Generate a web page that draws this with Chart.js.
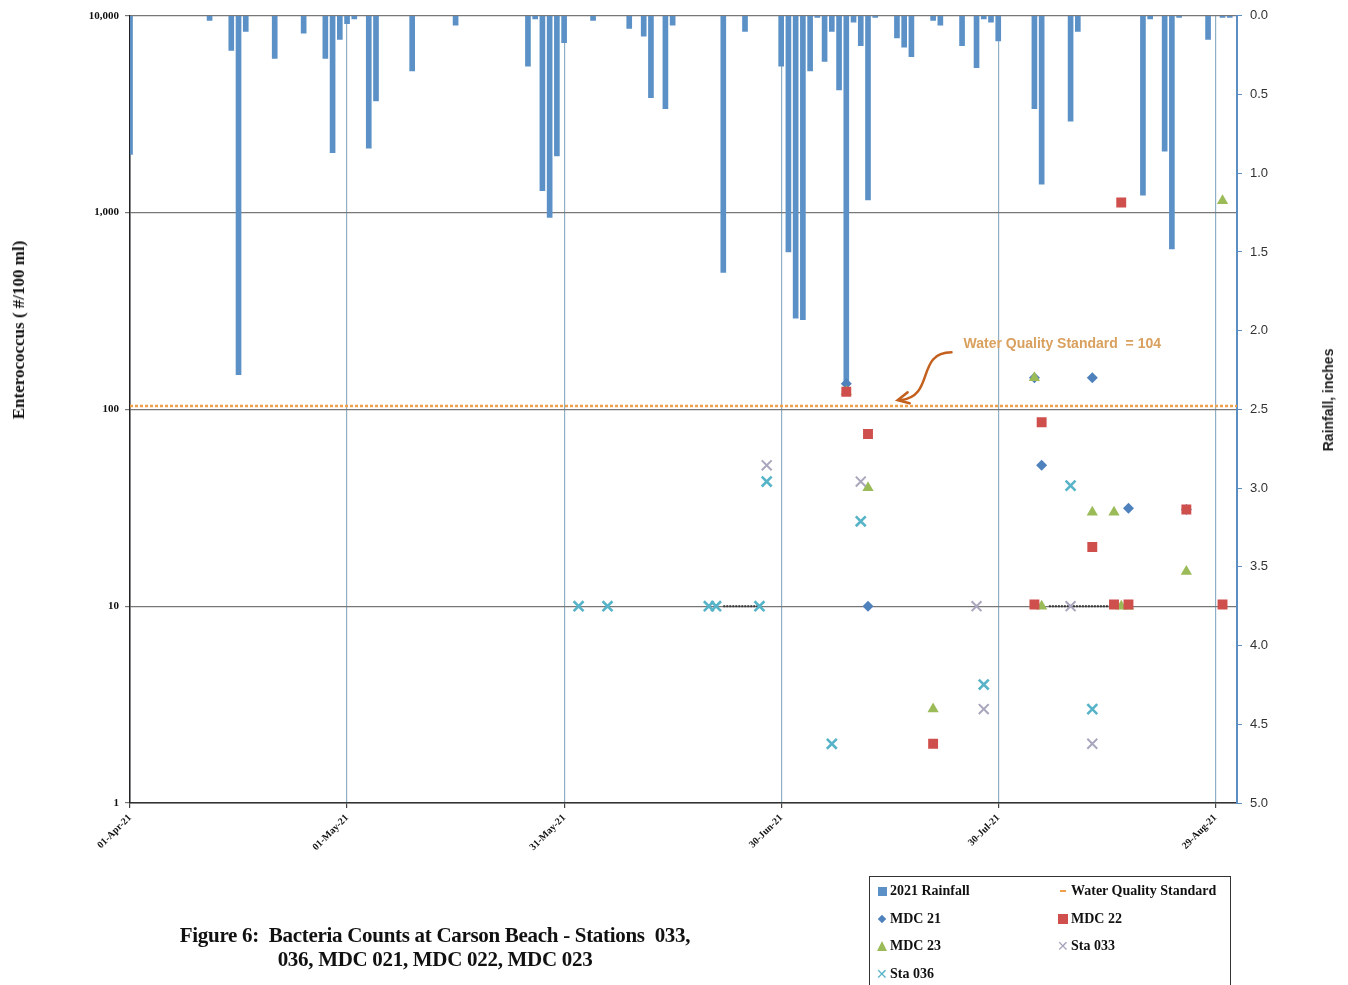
<!DOCTYPE html>
<html>
<head>
<meta charset="utf-8">
<script src="https://cdn.jsdelivr.net/npm/chart.js@4.4.1/dist/chart.umd.min.js"></script>
<style>
    body { margin: 0; background: #fff; }
    #wrap { position: relative; width: 1348px; height: 985px; overflow: hidden; }
    #chart { position: absolute; left: 0; top: 0; }
    .rot { position: absolute; white-space: nowrap; transform: translate(-50%, -50%) rotate(-90deg); }
    #yTitle { left: 19px; top: 330px; font: bold 17px 'Liberation Serif', serif; color: #111; }
    #rTitle { left: 1328px; top: 400px; font: bold 14px 'Liberation Sans', sans-serif; color: #222; }
    #caption { position: absolute; left: 435px; top: 923px; transform: translateX(-50%); text-align: center;
        font: bold 21px 'Liberation Serif', serif; line-height: 24px; color: #111; white-space: nowrap; letter-spacing: -0.3px; }
    #legend { position: absolute; left: 869px; top: 876px; width: 360px; height: 130px; border: 1.5px solid #333;
        font: bold 14px 'Liberation Serif', serif; color: #111; }
    .li { position: absolute; display: flex; align-items: center; white-space: nowrap; }
    .mk { display: inline-block; width: 12px; height: 12px; position: relative; margin-right: 2px; }
</style>
</head>
<body>
<div id="wrap">
    <canvas id="chart" width="1348" height="985"></canvas>
    <div id="yTitle" class="rot">Enterococcus ( #/100 ml)</div>
    <div id="rTitle" class="rot">Rainfall, inches</div>
    <div id="caption">Figure 6:&nbsp; Bacteria Counts at Carson Beach - Stations&nbsp; 033,<br>036, MDC 021, MDC 022, MDC 023</div>
    <div id="legend"></div>
</div>
<script>
// x values are days after 01-Apr-21
const axisDays = 153;
const dateTicks = [0, 30, 60, 90, 120, 150];
const monthNames = ['Jan', 'Feb', 'Mar', 'Apr', 'May', 'Jun', 'Jul', 'Aug', 'Sep', 'Oct', 'Nov', 'Dec'];

// 2021 rainfall (inches)
const rainDays = [0, 11, 14, 15, 16, 20, 24, 27, 28, 29, 30, 31, 33, 34, 39, 45,
    55, 56, 57, 58, 59, 60, 64, 69, 71, 72, 74, 75, 82, 85,
    90, 91, 92, 93, 94, 95, 96, 97, 98, 99, 100, 101, 102, 103, 106, 107, 108, 111, 112, 115, 117, 118, 119, 120,
    125, 126, 130, 131, 140, 141, 143, 144, 145, 149, 151, 152];
const rainInches = [0.88, 0.03, 0.22, 2.28, 0.10, 0.27, 0.11, 0.27, 0.87, 0.15, 0.05, 0.02, 0.84, 0.54, 0.35, 0.06,
    0.32, 0.02, 1.11, 1.28, 0.89, 0.17, 0.03, 0.08, 0.13, 0.52, 0.59, 0.06, 1.63, 0.10,
    0.32, 1.50, 1.92, 1.93, 0.35, 0.01, 0.29, 0.10, 0.47, 2.33, 0.04, 0.19, 1.17, 0.01, 0.14, 0.20, 0.26, 0.03, 0.06, 0.19, 0.33, 0.02, 0.04, 0.16,
    0.59, 1.07, 0.67, 0.10, 1.14, 0.02, 0.86, 1.48, 0.01, 0.15, 0.01, 0.01];

const wqsValue = 104;

// bacteria counts (#/100 ml)
const mdc21Days = [99, 102, 125, 126, 133, 138, 146];
const mdc21Counts = [135, 10, 145, 52, 145, 31.5, 31];
const mdc22Days = [99, 102, 111, 125, 126, 133, 136, 137, 138, 146, 151];
const mdc22Counts = [123, 75, 2, 10.2, 86, 20, 10.2, 1125, 10.2, 31, 10.2];
const mdc23Days = [99, 102, 111, 125, 126, 133, 136, 137, 138, 146, 151];
const mdc23Counts = [123, 40, 3, 145, 10, 30, 30, 10, 10, 15, 1150];
const sta033Days = [88, 101, 117, 118, 130, 133];
const sta033Counts = [52, 43, 10, 3, 10, 2];
const sta036Days = [62, 66, 80, 81, 87, 88, 97, 101, 118, 130, 133];
const sta036Counts = [10, 10, 10, 10, 10, 43, 2, 27, 4, 41, 3];

// short dotted connectors drawn along the 10 line
const dotDays = [82, 87, 100, 127, 136];
const dotCounts = [10, 10, null, 10, 10];

const logTicks = [1, 10, 100, 1000, 10000];

const pts = (days, vals) => days.map((d, i) => ({ x: d, y: vals[i] }));

function dateLabel(v) {
    const d = new Date(2021, 3, 1);
    d.setDate(d.getDate() + v);
    return String(d.getDate()).padStart(2, '0') + '-' + monthNames[d.getMonth()] + '-21';
}

const colors = {
    rain: '#5b91c6', wqs: '#f0a04b', mdc21: '#4f81bd', mdc22: '#cf4f4c',
    mdc23: '#9bbb59', sta033: '#a8a6bd', sta036: '#57b4c8'
};

// text + curved arrow for the standard
const wqsNote = {
    id: 'wqsNote',
    afterDatasetsDraw(chart) {
        const { ctx, scales: { x, y } } = chart;
        const tx = x.getPixelForValue(115.2), ty = y.getPixelForValue(214);
        const ax = x.getPixelForValue(106.1), ay = y.getPixelForValue(wqsValue * 1.07);
        ctx.save();
        ctx.font = 'bold 14px "Liberation Sans"';
        ctx.fillStyle = '#d9a05e';
        ctx.textBaseline = 'middle';
        ctx.fillText('Water Quality Standard  = 104', tx, ty);
        ctx.strokeStyle = '#c4601e';
        ctx.lineWidth = 2.5;
        ctx.lineCap = 'round';
        ctx.beginPath();
        ctx.moveTo(tx - 12, ty + 8);
        ctx.bezierCurveTo(tx - 48, ty + 8, tx - 28, ay - 4, ax + 3, ay);
        ctx.stroke();
        ctx.beginPath();
        ctx.moveTo(ax + 10, ay - 8);
        ctx.lineTo(ax, ay);
        ctx.lineTo(ax + 12, ay + 3);
        ctx.stroke();
        ctx.restore();
    }
};

const chart = new Chart(document.getElementById('chart'), {
    type: 'bar',
    data: {
        datasets: [
            { type: 'line', label: 'dots', data: pts(dotDays, dotCounts), yAxisID: 'y', borderColor: '#333',
              borderWidth: 2, borderDash: [2, 1], pointRadius: 0, spanGaps: false, order: 3 },
            { type: 'line', label: 'Water Quality Standard', data: [{ x: 0, y: wqsValue }, { x: axisDays, y: wqsValue }],
              yAxisID: 'y', borderColor: colors.wqs, borderWidth: 2.5, borderDash: [3, 2], pointRadius: 0, order: 2 },
            { type: 'scatter', label: 'Sta 036', data: pts(sta036Days, sta036Counts), yAxisID: 'y', pointStyle: 'crossRot',
              pointRadius: 7, borderWidth: 2.6, borderColor: colors.sta036, backgroundColor: colors.sta036, order: 1 },
            { type: 'scatter', label: 'Sta 033', data: pts(sta033Days, sta033Counts), yAxisID: 'y', pointStyle: 'crossRot',
              pointRadius: 7, borderWidth: 2, borderColor: colors.sta033, backgroundColor: colors.sta033, order: 1 },
            { type: 'scatter', label: 'MDC 22', data: pts(mdc22Days, mdc22Counts), yAxisID: 'y', pointStyle: 'rect',
              pointRadius: 7, borderWidth: 0, backgroundColor: colors.mdc22, order: 1 },
            { type: 'scatter', label: 'MDC 23', data: pts(mdc23Days, mdc23Counts), yAxisID: 'y', pointStyle: 'triangle',
              pointRadius: 6.5, borderWidth: 0, backgroundColor: colors.mdc23, order: 1 },
            { type: 'scatter', label: 'MDC 21', data: pts(mdc21Days, mdc21Counts), yAxisID: 'y', pointStyle: 'rectRot',
              pointRadius: 5.5, borderWidth: 0, backgroundColor: colors.mdc21, order: 1 },
            { type: 'bar', label: '2021 Rainfall', data: pts(rainDays, rainInches), yAxisID: 'yRain',
              backgroundColor: colors.rain, barThickness: 5, order: 4 }
        ]
    },
    options: {
        responsive: false,
        animation: false,
        layout: { padding: { top: 15, left: 0, right: 0, bottom: 0 } },
        plugins: { legend: { display: false }, tooltip: { enabled: false } },
        scales: {
            x: {
                type: 'linear', min: 0, max: axisDays, offset: false,
                afterFit: s => { s.height = 182; },
                afterBuildTicks: s => { s.ticks = dateTicks.map(v => ({ value: v })); },
                ticks: { maxRotation: 45, minRotation: 45, padding: 4, color: '#111',
                         font: { family: 'Liberation Serif', weight: 'bold', size: 10 }, callback: v => dateLabel(v) },
                grid: { offset: false, color: '#8fb0c4', lineWidth: 1.2, tickLength: 5, tickColor: '#444' },
                border: { color: '#333', width: 1.5 }
            },
            y: {
                type: 'logarithmic', position: 'left', min: 1, max: 10000,
                afterFit: s => { s.width = 130; },
                afterBuildTicks: s => { s.ticks = logTicks.map(v => ({ value: v })); },
                ticks: { color: '#111', padding: 6, font: { family: 'Liberation Serif', weight: 'bold', size: 11 },
                         callback: v => Number(v).toLocaleString('en-US') },
                grid: { color: '#777', lineWidth: 1.2, tickLength: 5 },
                border: { color: '#222', width: 1.5 }
            },
            yRain: {
                type: 'linear', position: 'right', min: 0, max: 5, reverse: true,
                afterFit: s => { s.width = 111; },
                ticks: { stepSize: 0.5, color: '#333', padding: 8, font: { family: 'Liberation Sans', size: 13 },
                         callback: v => Number(v).toFixed(1) },
                grid: { drawOnChartArea: false, tickLength: 5, color: '#5b8fc4' },
                border: { color: '#5b8fc4', width: 2 }
            }
        }
    },
    plugins: [wqsNote]
});

// legend box below the chart, built from the datasets
const legendOrder = [
    ['2021 Rainfall', 'Water Quality Standard'],
    ['MDC 21', 'MDC 22'],
    ['MDC 23', 'Sta 033'],
    ['Sta 036']
];
const markerHtml = {
    '2021 Rainfall': `<span class="mk"><span style="position:absolute;left:2px;top:2px;width:9px;height:9px;background:${colors.rain}"></span></span>`,
    'Water Quality Standard': `<span class="mk"><span style="position:absolute;left:3px;top:5px;width:6px;height:2px;background:${colors.wqs}"></span></span>`,
    'MDC 21': `<span class="mk"><span style="position:absolute;left:3px;top:3px;width:6px;height:6px;background:${colors.mdc21};transform:rotate(45deg)"></span></span>`,
    'MDC 22': `<span class="mk"><span style="position:absolute;left:1px;top:1px;width:10px;height:10px;background:${colors.mdc22}"></span></span>`,
    'MDC 23': `<span class="mk"><span style="position:absolute;left:1px;top:1px;width:0;height:0;border-left:5px solid transparent;border-right:5px solid transparent;border-bottom:10px solid ${colors.mdc23}"></span></span>`,
    'Sta 033': `<span class="mk" style="color:${colors.sta033};font:bold 14px 'DejaVu Sans';line-height:12px">✕</span>`,
    'Sta 036': `<span class="mk" style="color:${colors.sta036};font:bold 14px 'DejaVu Sans';line-height:12px">✕</span>`
};
const legendEl = document.getElementById('legend');
const labels = chart.data.datasets.map(d => d.label);
legendOrder.forEach((row, r) => {
    row.forEach((name, c) => {
        if (!labels.includes(name)) return;
        const item = document.createElement('div');
        item.className = 'li';
        item.style.left = (c === 0 ? 6 : 187) + 'px';
        item.style.top = (6 + r * 27.5) + 'px';
        item.innerHTML = markerHtml[name] + name;
        legendEl.appendChild(item);
    });
});
</script>
</body>
</html>
